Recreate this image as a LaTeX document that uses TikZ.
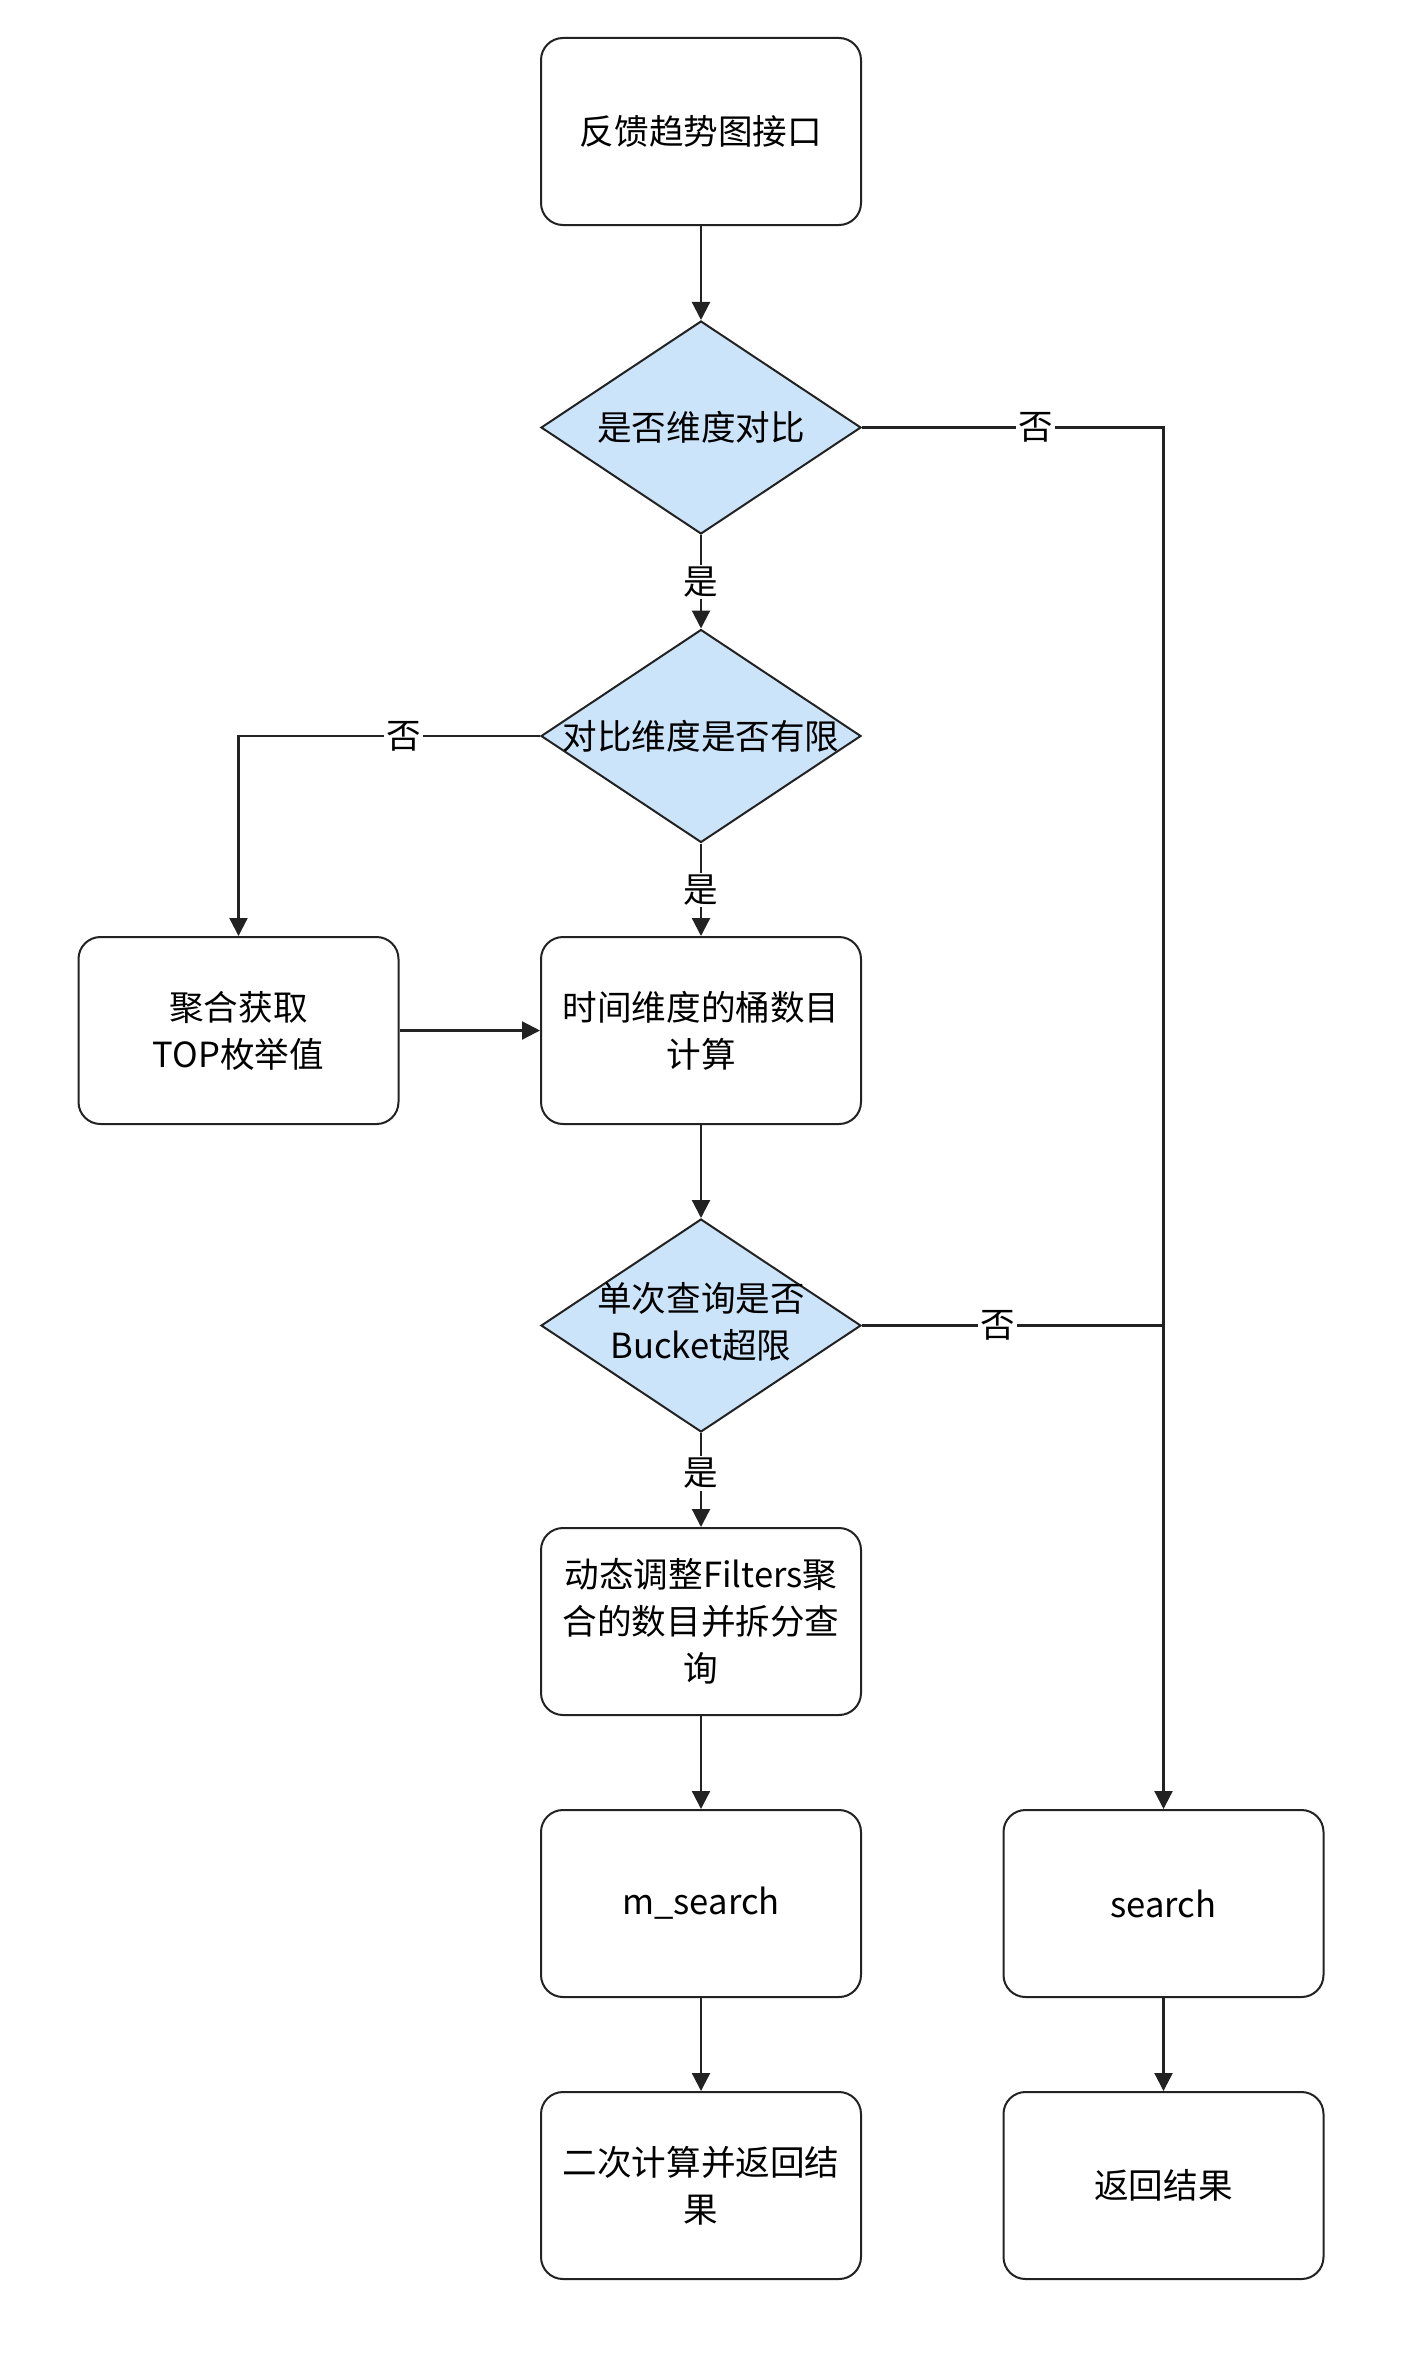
\documentclass[tikz,border=0pt]{standalone}
\usepackage{fontspec}
\setmainfont{Noto Sans CJK SC}
\usetikzlibrary{arrows.meta,
                positioning,
                shapes.geometric}
\definecolor{lineclr}{RGB}{34,34,34}
\definecolor{diafill}{RGB}{204,228,249}

\begin{document}
\begin{tikzpicture}[
       x = 0.5pt, y = -0.5pt,
    font = \fontsize{17.3}{23.4}\selectfont,
      base/.style = {draw=lineclr, line width=1pt, align=center},
   process/.style = {base, rectangle, rounded corners=11pt, minimum width=160pt, minimum height=93.5pt, inner sep=2pt},
  decision/.style = {base, diamond, fill=diafill, minimum width=160pt, minimum height=106.5pt, inner sep=0pt},
      link/.style = {draw=lineclr, line width=1.1pt, -{Triangle[width=9pt,length=9pt]}},
       tag/.style = {fill=white, inner sep=1pt}
                    ]
  \useasboundingbox (0,0) rectangle (1418,2371);
  \node [process]  (start)  at (701,131.5) {反馈趋势图接口};
  \node [decision] (isdim)  at (701,427.5)  {\makebox[0pt]{是否维度对比}};
  \node [decision] (finite) at (701,736)  {\makebox[0pt]{对比维度是否有限}};
  \node [process]  (topval) at (238.5,1030.5) {聚合获取\\TOP枚举值};
  \node [process]  (bucket) at (701,1030.5) {时间维度的桶数目\\计算};
  \node [decision] (limit)  at (701,1325.5) {\makebox[0pt]{\begin{tabular}{@{}c@{}}单次查询是否\\Bucket超限\end{tabular}}};
  \node [process]  (adjust) at (701,1621.5) {动态调整Filters聚\\合的数目并拆分查\\询};
  \node [process]  (msearch) at (701,1903.5) {m\_search};
  \node [process]  (recalc) at (701,2185.5) {二次计算并返回结\\果};
  \node [process]  (search) at (1163.5,1903.5) {search};
  \node [process]  (result) at (1163.5,2185.5) {返回结果};
  % connectors
  \path [link] (start) -- (isdim);
  \path [link] (isdim) -- node[tag] {是} (finite);
  \path [link] (isdim.east) -- node[tag, pos=0.575] {否} (isdim.east -| search.north) -- (search.north);
  \path [link] (finite.west) -- node[tag, pos=0.453] {否} (finite.west -| topval.north) -- (topval.north);
  \path [link] (finite) -- node[tag] {是} (bucket);
  \path [link] (topval) -- (bucket);
  \path [link] (bucket) -- (limit);
  \draw [draw=lineclr, line width=1.1pt] (limit.east) -- node[tag, pos=0.45] {否} (limit.east -| search.north);
  \path [link] (limit) -- node[tag, pos=0.43] {是} (adjust);
  \path [link] (adjust) -- (msearch);
  \path [link] (msearch) -- (recalc);
  \path [link] (search) -- (result);
\end{tikzpicture}
\end{document}
